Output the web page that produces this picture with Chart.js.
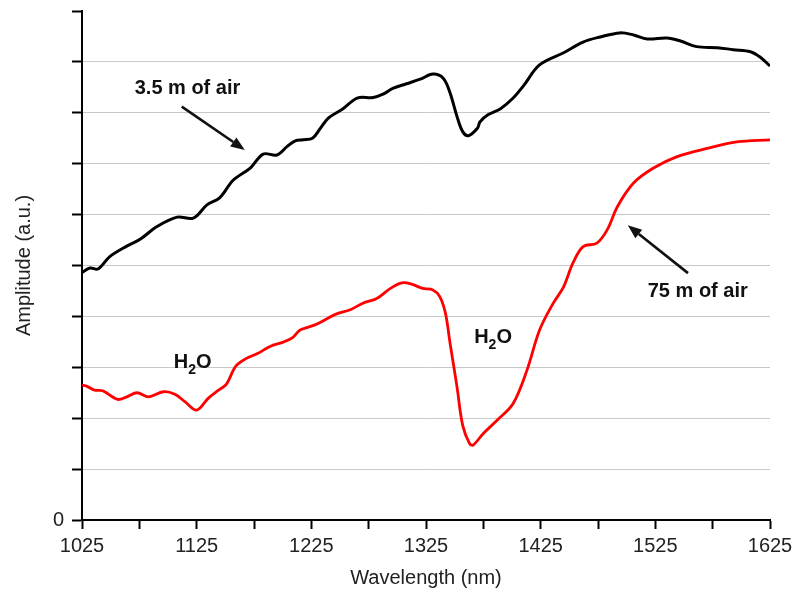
<!DOCTYPE html>
<html>
<head>
<meta charset="utf-8">
<script src="https://cdn.jsdelivr.net/npm/chart.js@4/dist/chart.umd.min.js"></script>
<style>
  html, body { margin: 0; padding: 0; background: #fff; }
  #wrap { width: 806px; height: 596px; }
</style>
</head>
<body>
<div id="wrap"><canvas id="c" width="806" height="596"></canvas></div>
<script>
// ---- data (wavelength in nm, amplitude in a.u.) ----
const wl_short = [1025,1032,1039,1049,1064,1076,1090,1108,1122,1134,1145,1157,1172,1183,1195,1204,1211,1218,1226,1233,1240,1252,1265,1279,1288,1296,1308,1320,1331,1340,1346,1352,1357,1362,1370,1372,1379,1390,1401,1410,1424,1445,1462,1477,1494,1506,1518,1535,1547,1561,1579,1593,1608,1616,1625];
const amp_short = [4.86,4.95,4.93,5.17,5.38,5.52,5.76,5.95,5.93,6.19,6.33,6.68,6.92,7.19,7.17,7.34,7.45,7.47,7.50,7.70,7.90,8.07,8.29,8.30,8.37,8.48,8.57,8.66,8.76,8.68,8.39,7.93,7.63,7.55,7.70,7.82,7.96,8.08,8.29,8.53,8.94,9.18,9.39,9.49,9.57,9.53,9.45,9.47,9.41,9.30,9.28,9.24,9.20,9.10,8.92];

const wl_long = [1025,1029,1036,1043,1056,1064,1073,1083,1096,1106,1115,1125,1135,1144,1151,1159,1168,1178,1189,1201,1209,1215,1221,1230,1246,1259,1270,1282,1294,1304,1313,1322,1331,1337,1342,1346,1352,1357,1363,1366,1375,1387,1401,1413,1424,1436,1445,1453,1462,1474,1483,1492,1506,1523,1544,1570,1596,1625];
const amp_long = [2.65,2.63,2.55,2.54,2.37,2.42,2.50,2.42,2.52,2.47,2.32,2.16,2.39,2.55,2.67,3.02,3.17,3.27,3.41,3.50,3.59,3.73,3.78,3.85,4.04,4.13,4.26,4.35,4.55,4.66,4.63,4.55,4.52,4.39,4.06,3.47,2.62,1.86,1.50,1.47,1.70,1.96,2.29,2.94,3.73,4.26,4.58,5.04,5.37,5.44,5.70,6.16,6.62,6.91,7.14,7.30,7.43,7.47];

const xTickLabels = ['1025','1125','1225','1325','1425','1525','1625'];
const yTickLabels = ['0'];
const seriesNames = ['3.5 m of air', '75 m of air'];

// ---- annotations (anchored in data units) ----
const noteTexts = [
  { text: '3.5 m of air', x: 1117, y: 8.37, align: 'center' },
  { text: '75 m of air',  x: 1562, y: 4.39, align: 'center' }
];
const noteArrows = [
  { from: [1112, 8.12], to: [1167, 7.27] },
  { from: [1553.5, 4.85], to: [1501, 5.79] }
];
const noteH2O = [
  { x: 1105, y: 2.98 },
  { x: 1367, y: 3.48 }
];

const FONT = "'Liberation Sans', Arial, sans-serif";

const annotPlugin = {
  id: 'annot',
  afterDatasetsDraw(chart) {
    const ctx = chart.ctx;
    const xs = chart.scales.x, ys = chart.scales.y;
    ctx.save();
    ctx.fillStyle = '#111';
    ctx.strokeStyle = '#111';
    ctx.textBaseline = 'alphabetic';
    ctx.font = 'bold 20px ' + FONT;
    noteTexts.forEach(n => {
      ctx.textAlign = n.align;
      ctx.fillText(n.text, xs.getPixelForValue(n.x), ys.getPixelForValue(n.y));
    });
    noteArrows.forEach(a => {
      const x1 = xs.getPixelForValue(a.from[0]), y1 = ys.getPixelForValue(a.from[1]);
      const x2 = xs.getPixelForValue(a.to[0]), y2 = ys.getPixelForValue(a.to[1]);
      const ang = Math.atan2(y2 - y1, x2 - x1);
      const hl = 14, hw = 5.5;
      const bx = x2 - hl * Math.cos(ang), by = y2 - hl * Math.sin(ang);
      ctx.lineWidth = 2.6;
      ctx.beginPath();
      ctx.moveTo(x1, y1);
      ctx.lineTo(bx, by);
      ctx.stroke();
      ctx.beginPath();
      ctx.moveTo(x2, y2);
      ctx.lineTo(bx + hw * Math.sin(ang), by - hw * Math.cos(ang));
      ctx.lineTo(bx - hw * Math.sin(ang), by + hw * Math.cos(ang));
      ctx.closePath();
      ctx.fill();
    });
    ctx.textAlign = 'left';
    noteH2O.forEach(h => {
      let px = xs.getPixelForValue(h.x), py = ys.getPixelForValue(h.y);
      ctx.font = 'bold 20px ' + FONT;
      ctx.fillText('H', px, py);
      px += ctx.measureText('H').width;
      ctx.font = 'bold 14px ' + FONT;
      ctx.fillText('2', px, py + 6);
      px += ctx.measureText('2').width;
      ctx.font = 'bold 20px ' + FONT;
      ctx.fillText('O', px, py);
    });
    ctx.restore();
  }
};

const bgPlugin = {
  id: 'bg',
  beforeDraw(chart) {
    const ctx = chart.ctx;
    ctx.save();
    ctx.fillStyle = '#fff';
    ctx.fillRect(0, 0, chart.width, chart.height);
    ctx.restore();
  }
};

const toPts = (xa, ya) => xa.map((v, i) => ({ x: v, y: ya[i] }));

new Chart(document.getElementById('c'), {
  type: 'line',
  data: {
    datasets: [
      { label: seriesNames[0], data: toPts(wl_short, amp_short), borderColor: '#000', borderWidth: 3, pointRadius: 0, tension: 0.35, fill: false },
      { label: seriesNames[1], data: toPts(wl_long, amp_long), borderColor: '#ff0000', borderWidth: 2.8, pointRadius: 0, tension: 0.35, fill: false }
    ]
  },
  options: {
    responsive: false,
    animation: false,
    events: [],
    layout: { padding: { top: 11, right: 36, bottom: 0, left: 0 } },
    plugins: { legend: { display: false }, tooltip: { enabled: false } },
    scales: {
      x: {
        type: 'linear',
        min: 1025, max: 1625,
        afterFit(s) { s.height = 76; s.paddingLeft = 0; s.paddingRight = 0; },
        border: { display: true, color: '#000', width: 2 },
        grid: { drawOnChartArea: false, drawTicks: true, tickLength: 9, tickColor: '#000', tickWidth: 2 },
        ticks: {
          stepSize: 50, autoSkip: false, maxRotation: 0, padding: 5,
          color: '#222', font: { family: FONT, size: 20 },
          callback: (v) => { const s = String(v); return xTickLabels.includes(s) ? s : ''; }
        },
        title: { display: true, text: 'Wavelength (nm)', color: '#222', font: { family: FONT, size: 20 }, padding: { top: 0, bottom: 6 } }
      },
      y: {
        type: 'linear',
        min: 0, max: 10,
        afterFit(s) { s.width = 82; s.paddingTop = 0; s.paddingBottom = 0; },
        border: { display: true, color: '#000', width: 2 },
        grid: {
          drawOnChartArea: true, drawTicks: true, tickLength: 10, tickColor: '#000', tickWidth: 2,
          color: (c) => (c.tick && (c.tick.value === 10 || c.tick.value === 0)) ? 'rgba(0,0,0,0)' : '#c8c8c8',
          lineWidth: 1
        },
        ticks: {
          stepSize: 1, padding: 8,
          color: '#222', font: { family: FONT, size: 20 },
          callback: (v) => { const s = String(v); return yTickLabels.includes(s) ? s : ''; }
        },
        title: { display: true, text: 'Amplitude (a.u.)', color: '#222', font: { family: FONT, size: 20 }, padding: { top: 12, bottom: 0 } }
      }
    }
  },
  plugins: [bgPlugin, annotPlugin]
});
</script>
</body>
</html>
